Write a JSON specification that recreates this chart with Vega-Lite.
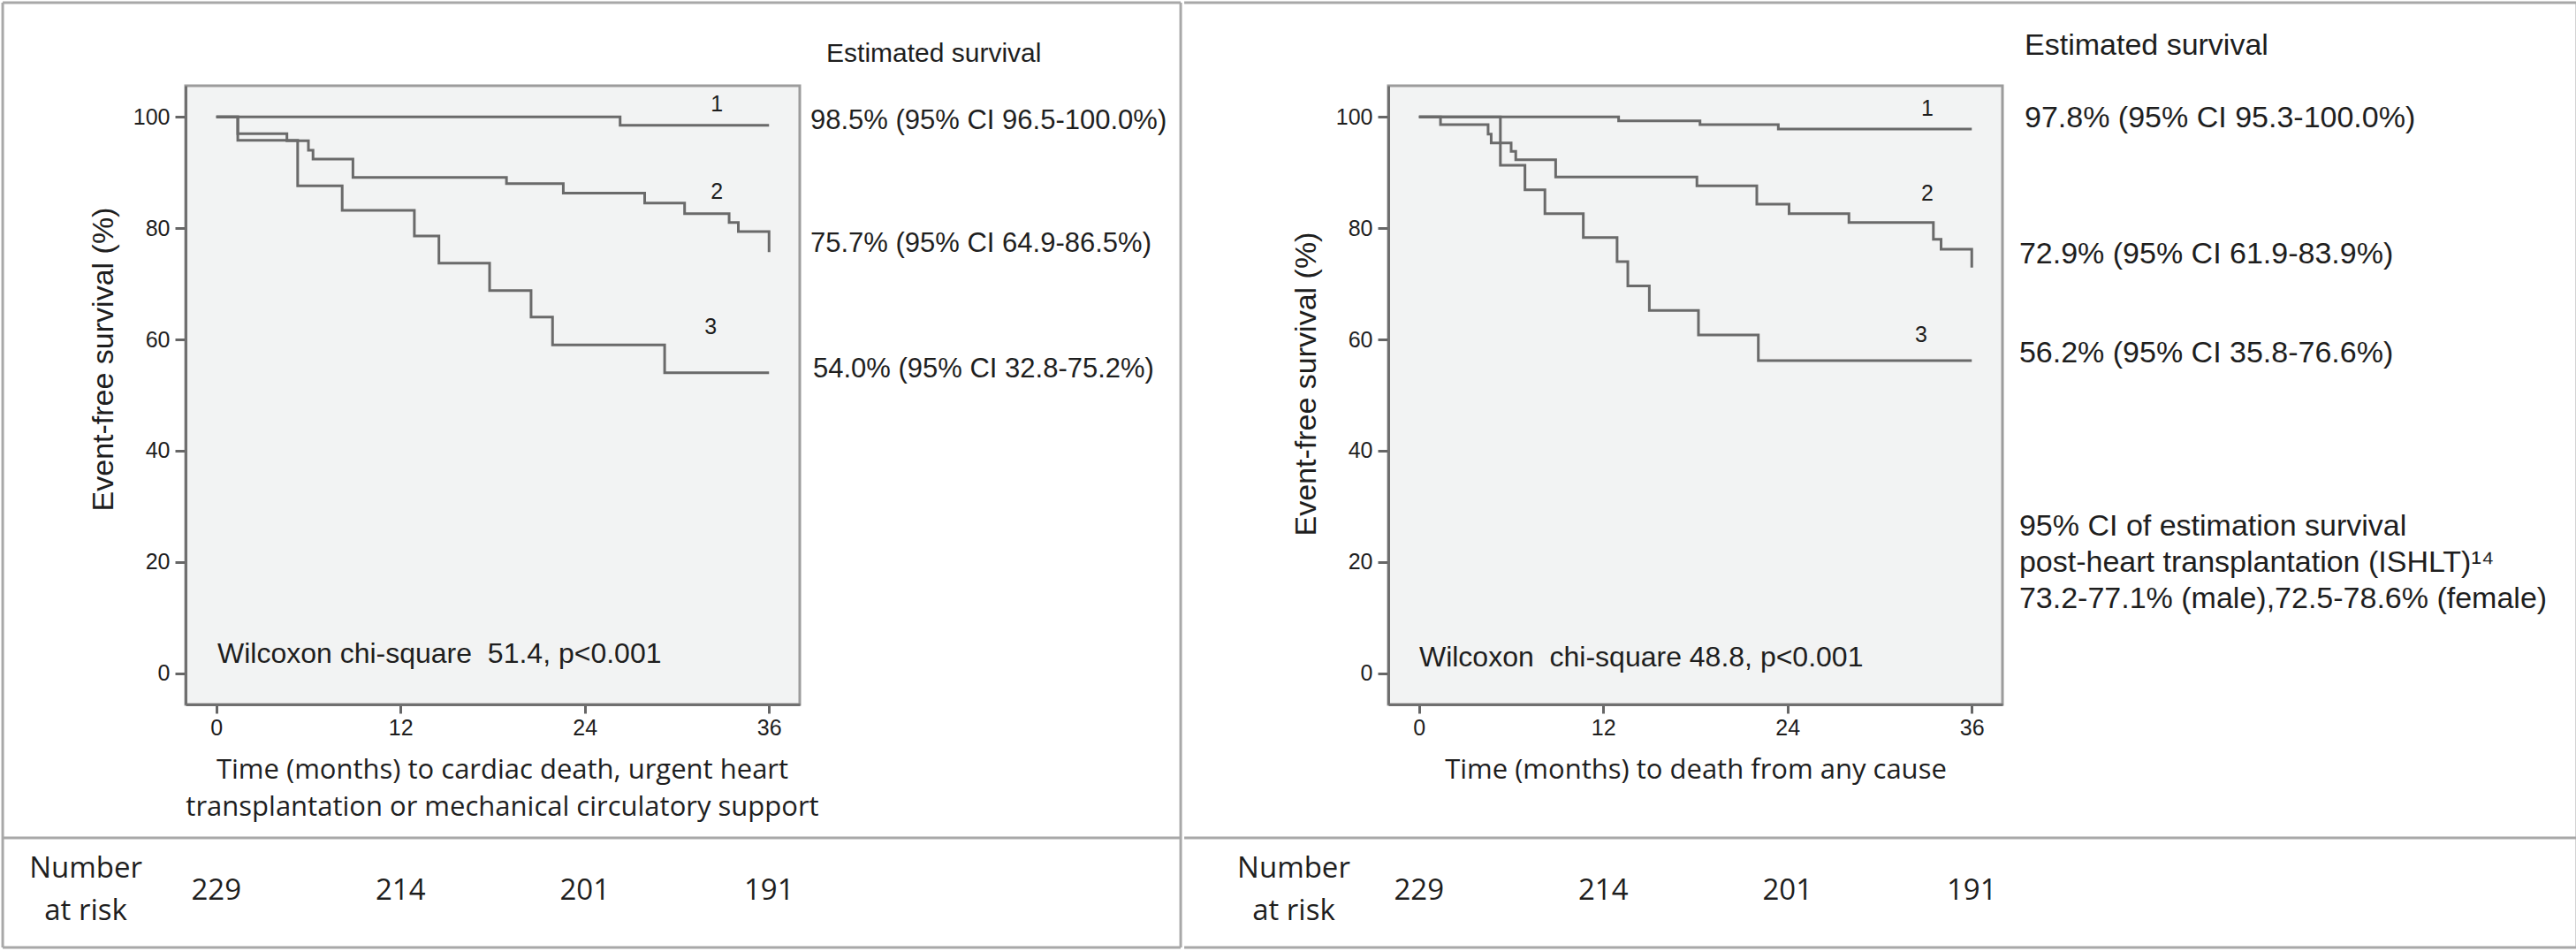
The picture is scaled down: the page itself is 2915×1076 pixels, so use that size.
{
  "$schema": "https://vega.github.io/schema/vega-lite/v6.json",
  "background": "white",
  "padding": {"left": 0, "top": 0, "right": 0, "bottom": 0},
  "spacing": -3,
  "config": {
    "view": {"fill": "#f2f3f3", "stroke": "#9c9c9c", "strokeWidth": 3},
    "font": "Liberation Sans",
    "text": {"font": "Liberation Sans", "color": "#1e1e1e"},
    "axis": {"grid": false, "labelFont": "Liberation Sans", "labelFontSize": 25, "labelColor": "#1e1e1e",
      "tickWidth": 3, "tickColor": "#666666", "domainColor": "#6f6f6f", "domainWidth": 3,
      "titleFontWeight": "normal", "titleColor": "#1e1e1e"}
  },
  "datasets": {
    "curves": [
      {"panel": "L", "g": 1, "t": 0, "s": 100}, {"panel": "L", "g": 1, "t": 26.3, "s": 98.5}, {"panel": "L", "g": 1, "t": 36, "s": 98.5},
      {"panel": "L", "g": 2, "t": 0, "s": 100}, {"panel": "L", "g": 2, "t": 1.4, "s": 97.0}, {"panel": "L", "g": 2, "t": 4.6, "s": 95.7},
      {"panel": "L", "g": 2, "t": 6.0, "s": 94.0}, {"panel": "L", "g": 2, "t": 6.3, "s": 92.4}, {"panel": "L", "g": 2, "t": 8.9, "s": 89.1},
      {"panel": "L", "g": 2, "t": 18.9, "s": 88.0}, {"panel": "L", "g": 2, "t": 22.6, "s": 86.3}, {"panel": "L", "g": 2, "t": 27.9, "s": 84.5},
      {"panel": "L", "g": 2, "t": 30.5, "s": 82.6}, {"panel": "L", "g": 2, "t": 33.4, "s": 81.0}, {"panel": "L", "g": 2, "t": 34.0, "s": 79.4},
      {"panel": "L", "g": 2, "t": 36, "s": 75.7},
      {"panel": "L", "g": 3, "t": 0, "s": 100}, {"panel": "L", "g": 3, "t": 1.4, "s": 95.8}, {"panel": "L", "g": 3, "t": 5.3, "s": 87.6},
      {"panel": "L", "g": 3, "t": 8.2, "s": 83.2}, {"panel": "L", "g": 3, "t": 12.9, "s": 78.6}, {"panel": "L", "g": 3, "t": 14.5, "s": 73.7},
      {"panel": "L", "g": 3, "t": 17.8, "s": 68.8}, {"panel": "L", "g": 3, "t": 20.5, "s": 64.0}, {"panel": "L", "g": 3, "t": 21.9, "s": 59.0},
      {"panel": "L", "g": 3, "t": 29.2, "s": 54.0}, {"panel": "L", "g": 3, "t": 36, "s": 54.0},
      {"panel": "R", "g": 1, "t": 0, "s": 100}, {"panel": "R", "g": 1, "t": 13.0, "s": 99.3}, {"panel": "R", "g": 1, "t": 18.3, "s": 98.6},
      {"panel": "R", "g": 1, "t": 23.4, "s": 97.8}, {"panel": "R", "g": 1, "t": 36, "s": 97.8},
      {"panel": "R", "g": 2, "t": 0, "s": 100}, {"panel": "R", "g": 2, "t": 1.4, "s": 98.6}, {"panel": "R", "g": 2, "t": 4.5, "s": 96.9},
      {"panel": "R", "g": 2, "t": 4.7, "s": 95.3}, {"panel": "R", "g": 2, "t": 6.0, "s": 93.8}, {"panel": "R", "g": 2, "t": 6.3, "s": 92.3},
      {"panel": "R", "g": 2, "t": 8.9, "s": 89.2}, {"panel": "R", "g": 2, "t": 18.1, "s": 87.6}, {"panel": "R", "g": 2, "t": 22.0, "s": 84.3},
      {"panel": "R", "g": 2, "t": 24.1, "s": 82.6}, {"panel": "R", "g": 2, "t": 28.0, "s": 81.0}, {"panel": "R", "g": 2, "t": 33.5, "s": 78.0},
      {"panel": "R", "g": 2, "t": 34.0, "s": 76.2}, {"panel": "R", "g": 2, "t": 36, "s": 72.9},
      {"panel": "R", "g": 3, "t": 0, "s": 100}, {"panel": "R", "g": 3, "t": 5.3, "s": 91.3}, {"panel": "R", "g": 3, "t": 6.9, "s": 86.9},
      {"panel": "R", "g": 3, "t": 8.2, "s": 82.6}, {"panel": "R", "g": 3, "t": 10.7, "s": 78.3}, {"panel": "R", "g": 3, "t": 12.9, "s": 74.0},
      {"panel": "R", "g": 3, "t": 13.6, "s": 69.6}, {"panel": "R", "g": 3, "t": 15.0, "s": 65.2}, {"panel": "R", "g": 3, "t": 18.2, "s": 60.8},
      {"panel": "R", "g": 3, "t": 22.1, "s": 56.2}, {"panel": "R", "g": 3, "t": 36, "s": 56.2}
    ],
    "notes": [
      {"panel": "L", "kind": "num", "t": 32.6, "s": 102.3, "text": "1"},
      {"panel": "L", "kind": "num", "t": 32.6, "s": 86.5, "text": "2"},
      {"panel": "L", "kind": "num", "t": 32.2, "s": 62.2, "text": "3"},
      {"panel": "L", "kind": "head", "t": 39.73, "s": 111.3, "text": "Estimated survival"},
      {"panel": "L", "kind": "est", "t": 38.69, "s": 99.25, "text": "98.5% (95% CI 96.5-100.0%)"},
      {"panel": "L", "kind": "est", "t": 38.69, "s": 77.2, "text": "75.7% (95% CI 64.9-86.5%)"},
      {"panel": "L", "kind": "est", "t": 38.86, "s": 54.6, "text": "54.0% (95% CI 32.8-75.2%)"},
      {"panel": "L", "kind": "wil", "t": 0.07, "s": 3.45, "text": "Wilcoxon chi-square\u00a0 51.4, p<0.001"},
      {"panel": "L", "kind": "risk", "t": -8.5, "s": -35.15, "text": "Number"},
      {"panel": "L", "kind": "risk", "t": -8.5, "s": -42.77, "text": "at risk"},
      {"panel": "L", "kind": "risk", "t": 0, "s": -39.1, "text": "229"},
      {"panel": "L", "kind": "risk", "t": 12, "s": -39.1, "text": "214"},
      {"panel": "L", "kind": "risk", "t": 24, "s": -39.1, "text": "201"},
      {"panel": "L", "kind": "risk", "t": 36, "s": -39.1, "text": "191"},
      {"panel": "R", "kind": "num", "t": 33.11, "s": 101.47, "text": "1"},
      {"panel": "R", "kind": "num", "t": 33.11, "s": 86.22, "text": "2"},
      {"panel": "R", "kind": "num", "t": 32.7, "s": 60.8, "text": "3"},
      {"panel": "R", "kind": "est", "t": 39.44, "s": 112.74, "text": "Estimated survival"},
      {"panel": "R", "kind": "est", "t": 39.44, "s": 99.74, "text": "97.8% (95% CI 95.3-100.0%)"},
      {"panel": "R", "kind": "est", "t": 39.09, "s": 75.26, "text": "72.9% (95% CI 61.9-83.9%)"},
      {"panel": "R", "kind": "est", "t": 39.09, "s": 57.47, "text": "56.2% (95% CI 35.8-76.6%)"},
      {"panel": "R", "kind": "est", "t": 39.09, "s": 26.34, "text": "95% CI of estimation survival"},
      {"panel": "R", "kind": "est", "t": 39.09, "s": 19.82, "text": "post-heart transplantation (ISHLT)¹⁴"},
      {"panel": "R", "kind": "est", "t": 39.09, "s": 13.31, "text": "73.2-77.1% (male),72.5-78.6% (female)"},
      {"panel": "R", "kind": "wil", "t": 0.01, "s": 2.82, "text": "Wilcoxon\u00a0 chi-square 48.8, p<0.001"},
      {"panel": "R", "kind": "risk", "t": -8.16, "s": -35.14, "text": "Number"},
      {"panel": "R", "kind": "risk", "t": -8.16, "s": -42.76, "text": "at risk"},
      {"panel": "R", "kind": "risk", "t": 0, "s": -39.11, "text": "229"},
      {"panel": "R", "kind": "risk", "t": 12, "s": -39.11, "text": "214"},
      {"panel": "R", "kind": "risk", "t": 24, "s": -39.11, "text": "201"},
      {"panel": "R", "kind": "risk", "t": 36, "s": -39.11, "text": "191"}
    ],
    "frame": [
      {"panel": "L", "edge": "top", "t": -13.91, "t2": 62.81, "s": 120.53, "s2": 120.53},
      {"panel": "L", "edge": "bottom", "t": -13.91, "t2": 62.81, "s": -49.29, "s2": -49.29},
      {"panel": "L", "edge": "left", "t": -13.91, "t2": -13.91, "s": 120.53, "s2": -49.29},
      {"panel": "L", "edge": "right", "t": 62.81, "t2": 62.81, "s": 120.53, "s2": -49.29},
      {"panel": "L", "edge": "table", "t": -13.91, "t2": 62.81, "s": -29.59, "s2": -29.59},
      {"panel": "R", "edge": "top", "t": -15.29, "t2": 75.41, "s": 120.53, "s2": 120.53},
      {"panel": "R", "edge": "bottom", "t": -15.29, "t2": 75.41, "s": -49.29, "s2": -49.29},
      {"panel": "R", "edge": "left", "t": -15.29, "t2": -15.29, "s": 120.53, "s2": -49.29},
      {"panel": "R", "edge": "right", "t": 75.41, "t2": 75.41, "s": 120.53, "s2": -49.29},
      {"panel": "R", "edge": "table", "t": -15.29, "t2": 75.41, "s": -29.59, "s2": -29.59}
    ]
  },
  "hconcat": [
    {
      "width": 695,
      "height": 700,
      "encoding": {
        "x": {"field": "t", "type": "quantitative", "scale": {"domain": [-2, 38], "nice": false, "zero": false},
          "axis": {"values": [0, 12, 24, 36],
            "title": ["Time (months) to cardiac death, urgent heart", "transplantation or mechanical circulatory support"],
            "titleFont": "Open Sans", "titleFontSize": 31, "titlePadding": 20, "titleLineHeight": 42, "titleX": 358,
            "labelPadding": 4, "tickSize": 10}},
        "y": {"field": "s", "type": "quantitative", "scale": {"domain": [-5.6, 105.6], "nice": false, "zero": false},
          "axis": {"values": [0, 20, 40, 60, 80, 100],
            "title": "Event-free survival (%)", "titleFont": "Liberation Sans", "titleFontSize": 34,
            "titlePadding": 16, "titleY": 309, "labelPadding": 6, "tickSize": 12}}
      },
      "layer": [
        {
          "data": {"name": "curves"},
          "transform": [{"filter": "datum.panel === 'L'"}],
          "mark": {"type": "line", "interpolate": "step-after", "color": "#6a6a6a", "strokeWidth": 3},
          "encoding": {"detail": {"field": "g", "type": "nominal"}}
        },
        {
          "data": {"name": "notes"},
          "transform": [{"filter": "datum.panel === 'L' && datum.kind === 'num'"}],
          "mark": {"type": "text", "fontSize": 25, "align": "center", "baseline": "middle"},
          "encoding": {"text": {"field": "text"}}
        },
        {
          "data": {"name": "notes"},
          "transform": [{"filter": "datum.panel === 'L' && datum.kind === 'head'"}],
          "mark": {"type": "text", "fontSize": 30, "align": "left", "baseline": "middle"},
          "encoding": {"text": {"field": "text"}}
        },
        {
          "data": {"name": "notes"},
          "transform": [{"filter": "datum.panel === 'L' && datum.kind === 'est'"}],
          "mark": {"type": "text", "fontSize": 31, "align": "left", "baseline": "middle"},
          "encoding": {"text": {"field": "text"}}
        },
        {
          "data": {"name": "notes"},
          "transform": [{"filter": "datum.panel === 'L' && datum.kind === 'wil'"}],
          "mark": {"type": "text", "fontSize": 32, "align": "left", "baseline": "middle"},
          "encoding": {"text": {"field": "text"}}
        },
        {
          "data": {"name": "notes"},
          "transform": [{"filter": "datum.panel === 'L' && datum.kind === 'risk'"}],
          "mark": {"type": "text", "font": "Open Sans", "fontSize": 33, "align": "center", "baseline": "middle"},
          "encoding": {"text": {"field": "text"}}
        },
        {
          "data": {"name": "frame"},
          "transform": [{"filter": "datum.panel === 'L'"}],
          "mark": {"type": "rule", "color": "#a8a8a8", "strokeWidth": 3},
          "encoding": {"x2": {"field": "t2"}, "y2": {"field": "s2"}}
        }
      ]
    },
    {
      "width": 695,
      "height": 700,
      "encoding": {
        "x": {"field": "t", "type": "quantitative", "scale": {"domain": [-2, 38], "nice": false, "zero": false},
          "axis": {"values": [0, 12, 24, 36],
            "title": "Time (months) to death from any cause",
            "titleFont": "Open Sans", "titleFontSize": 31, "titlePadding": 20,
            "labelPadding": 4, "tickSize": 10}},
        "y": {"field": "s", "type": "quantitative", "scale": {"domain": [-5.6, 105.6], "nice": false, "zero": false},
          "axis": {"values": [0, 20, 40, 60, 80, 100],
            "title": "Event-free survival (%)", "titleFont": "Liberation Sans", "titleFontSize": 34,
            "titlePadding": 16, "titleY": 337, "labelPadding": 6, "tickSize": 12}}
      },
      "layer": [
        {
          "data": {"name": "curves"},
          "transform": [{"filter": "datum.panel === 'R'"}],
          "mark": {"type": "line", "interpolate": "step-after", "color": "#6a6a6a", "strokeWidth": 3},
          "encoding": {"detail": {"field": "g", "type": "nominal"}}
        },
        {
          "data": {"name": "notes"},
          "transform": [{"filter": "datum.panel === 'R' && datum.kind === 'num'"}],
          "mark": {"type": "text", "fontSize": 25, "align": "center", "baseline": "middle"},
          "encoding": {"text": {"field": "text"}}
        },
        {
          "data": {"name": "notes"},
          "transform": [{"filter": "datum.panel === 'R' && datum.kind === 'est'"}],
          "mark": {"type": "text", "fontSize": 34, "align": "left", "baseline": "middle"},
          "encoding": {"text": {"field": "text"}}
        },
        {
          "data": {"name": "notes"},
          "transform": [{"filter": "datum.panel === 'R' && datum.kind === 'wil'"}],
          "mark": {"type": "text", "fontSize": 32, "align": "left", "baseline": "middle"},
          "encoding": {"text": {"field": "text"}}
        },
        {
          "data": {"name": "notes"},
          "transform": [{"filter": "datum.panel === 'R' && datum.kind === 'risk'"}],
          "mark": {"type": "text", "font": "Open Sans", "fontSize": 33, "align": "center", "baseline": "middle"},
          "encoding": {"text": {"field": "text"}}
        },
        {
          "data": {"name": "frame"},
          "transform": [{"filter": "datum.panel === 'R' && datum.edge !== 'left'"}],
          "mark": {"type": "rule", "color": "#a8a8a8", "strokeWidth": 3},
          "encoding": {"x2": {"field": "t2"}, "y2": {"field": "s2"}}
        },
        {
          "data": {"name": "frame"},
          "transform": [{"filter": "datum.panel === 'R' && datum.edge === 'left'"}],
          "mark": {"type": "rule", "color": "#a8a8a8", "strokeWidth": 3, "opacity": 0},
          "encoding": {"x2": {"field": "t2"}, "y2": {"field": "s2"}}
        }
      ]
    }
  ]
}
